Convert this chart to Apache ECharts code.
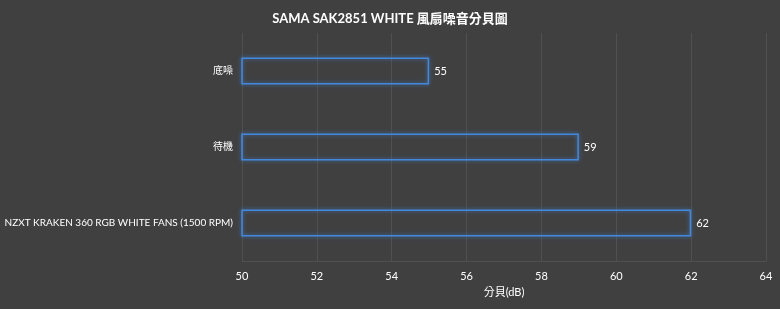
<!DOCTYPE html>
<html><head><meta charset="utf-8">
<script src="https://cdn.jsdelivr.net/npm/echarts@6/dist/echarts.min.js"></script>
<style>html,body{margin:0;padding:0;background:#404040;}#c{width:780px;height:309px;}</style>
</head><body><div id="c"></div>
<script>
const categories = ['底噪', '待機', 'NZXT KRAKEN 360 RGB WHITE FANS (1500 RPM)'];
const values = [55, 59, 62];
const xTicks = [50, 52, 54, 56, 58, 60, 62, 64];
const titleText = 'SAMA SAK2851 WHITE 風扇噪音分貝圖';
const axisName = '分貝(dB)';

const font = 'Lato, "Noto Sans CJK TC", sans-serif';
const chart = echarts.init(document.getElementById('c'));
chart.setOption({
  backgroundColor: '#404040',
  animation: false,
  title: {
    text: titleText, left: 'center', top: 7,
    textStyle: { color: '#ffffff', fontSize: 13, fontWeight: 'bold', fontFamily: font }
  },
  grid: { left: 242, right: 14, top: 33, bottom: 48, containLabel: false, outerBoundsMode: 'none' },
  xAxis: {
    type: 'value', min: xTicks[0], max: xTicks[xTicks.length - 1], interval: 2,
    name: axisName, nameLocation: 'middle', nameGap: 26,
    nameTextStyle: { color: '#ffffff', fontSize: 11, fontFamily: font },
    axisLine: { show: true, lineStyle: { color: '#505050' } },
    axisTick: { show: false },
    axisLabel: { color: '#ffffff', fontSize: 11, fontFamily: font, margin: 10 },
    splitLine: { show: true, lineStyle: { color: '#505050', width: 1 } }
  },
  yAxis: {
    type: 'category', data: categories, inverse: true,
    axisLine: { show: false }, axisTick: { show: false },
    axisLabel: { color: '#ffffff', fontSize: 10, fontFamily: font, margin: 9 }
  },
  series: [{
    type: 'bar', data: values, barWidth: 27,
    itemStyle: {
      color: 'rgba(0,0,0,0)', borderColor: '#4488dd', borderWidth: 1.5,
      shadowColor: 'rgba(68,136,221,0.8)', shadowBlur: 4
    },
    label: { show: true, position: 'right', color: '#ffffff', fontSize: 11, fontFamily: font, distance: 5 }
  }]
});
</script></body></html>
